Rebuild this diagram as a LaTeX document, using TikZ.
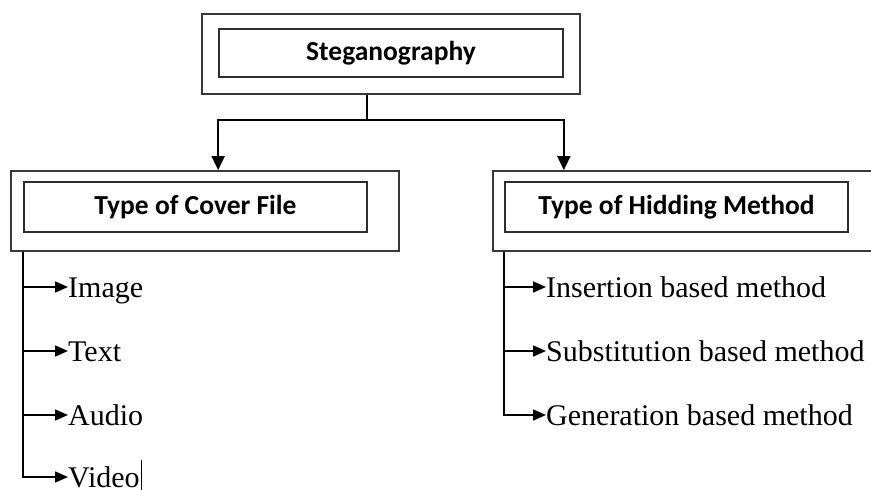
\documentclass[tikz,border=0pt]{standalone}
\usepackage{fontspec}
\setmainfont{Liberation Serif}
\newfontfamily\boxfont{Carlito}
\usetikzlibrary{
    positioning,
    arrows.meta
}
\tikzset{
    >=Stealth,
    outerbox/.style={
        draw=black!78,
        line width=1.7pt,
        minimum height=80pt
    },
    innerbox/.style={
        draw=black!82,
        line width=1.7pt,
        minimum width=343pt,
        minimum height=50pt,
        font=\boxfont\bfseries\fontsize{27.5}{32}\selectfont
    },
    item/.style={
        inner sep=0pt,
        text height=20pt,
        text depth=0pt,
        anchor=base west,
        font=\fontsize{30}{36}\selectfont
    },
    down/.style={
        -{Triangle[width=13pt,length=14pt]},
        line width=1.7pt
    },
    branch/.style={
        -{Triangle[width=11pt,length=13pt]},
        line width=1.6pt
    }
}

\begin{document}
\begin{tikzpicture}[
    x=1pt,
    y=-1pt
]

    \useasboundingbox (0,0) rectangle (871,490);
    \clip (0,0) rectangle (871,490);

    % Cajas
    \node[outerbox, minimum width=378pt] (stout) at (391,54)    {};
    \node[innerbox, minimum width=344pt, minimum height=48pt]
                                         (st)    at (391,53)    {Steganography};
    \node[outerbox, minimum width=388pt] (cfout) at (205,211)   {};
    \node[innerbox]                      (cf)    at (195.5,207) {Type of Cover File};
    \node[outerbox, minimum width=392pt] (hmout) at (689,211)   {};
    \node[innerbox]                      (hm)    at (676.5,207) {Type of Hidding Method};

    % Elementos
    \node[item] (im)  at (68,297)  {Image};
    \node[item] (tx)  at (68,361)  {Text};
    \node[item] (au)  at (68,425)  {Audio};
    \node[item] (vd)  at (68,487)  {Video};
    \node[item] (ins) at (546,297) {Insertion based method};
    \node[item] (sub) at (546,361) {Substitution based method};
    \node[item] (gen) at (546,425) {Generation based method};

    % Conexiones
    \coordinate (split) at (367,120);
    \draw[line width=1.7pt] (split |- stout.south) -- (split);
    \draw[down] (split) -| (st.west |- cfout.north);
    \draw[down] (split) -| (st.east |- hmout.north);

    \draw[branch] (cf.west |- cfout.south) |- (vd.west);
    \foreach \n in {im,tx,au}
        \draw[branch] (cf.west |- \n.west) -- (\n.west);

    \draw[branch] (hm.west |- hmout.south) |- (gen.west);
    \foreach \n in {ins,sub}
        \draw[branch] (hm.west |- \n.west) -- (\n.west);

    % Cursor
    \draw[line width=1.8pt] ([xshift=1.5pt]vd.base east) ++(0,3) -- ++(0,-30);

\end{tikzpicture}
\end{document}
